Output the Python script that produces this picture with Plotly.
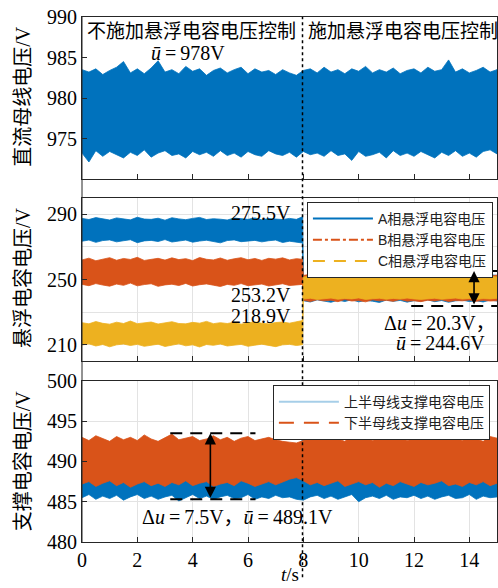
import plotly.graph_objects as go

# ---------------- time grids (s) ----------------
T_FULL = [i * 0.25 for i in range(61)]
T_PRE = [i * 0.25 for i in range(32)] + [7.97]
T_POST = [8.0] + [8.25 + i * 0.25 for i in range(28)]
T_SWITCH = 7.97

# ---------------- panel 1: DC bus voltage (V) envelopes ----------------
BUS_HI = [983.5, 983.2, 983.6, 982.9, 983.4, 983.8, 984.5, 983.1, 983.6, 983.0,
          983.7, 984.6, 983.2, 983.5, 983.0, 983.9, 983.3, 983.6, 982.8, 983.4,
          983.7, 983.1, 983.5, 983.8, 983.0, 983.6, 983.2, 983.4, 982.9, 983.5,
          983.1, 982.8, 983.4, 983.6, 983.1, 983.8, 983.2, 983.5, 983.0, 983.6,
          983.3, 983.9, 983.1, 983.5, 983.2, 983.7, 983.0, 983.4, 983.6, 983.1,
          983.8, 983.3, 983.5, 984.7, 983.2, 983.6, 983.1, 983.4, 983.8, 983.2,
          983.5]
BUS_LO = [973.2, 972.1, 973.5, 972.8, 973.4, 973.0, 972.6, 973.3, 972.9, 973.6,
          972.7, 973.2, 973.5, 972.9, 973.1, 972.6, 973.4, 973.0, 973.3, 972.8,
          973.5, 972.9, 973.2, 972.7, 973.4, 973.0, 972.8, 973.5, 973.1, 972.9,
          973.3, 972.7, 973.4, 973.0, 973.2, 972.8, 973.5, 972.9, 973.1, 972.3,
          973.4, 972.8, 973.0, 973.3, 972.6, 973.5, 972.9, 973.2, 972.8, 973.4,
          973.0, 972.6, 973.3, 972.9, 973.5, 972.8, 973.2, 972.7, 973.4, 973.6,
          973.1]

# ---------------- panel 2: floating capacitor voltages (V) ----------------
A_HI_PRE = [287.5, 286.8, 288.0, 287.2, 286.5, 287.8, 287.0, 286.6, 288.2, 287.1,
            286.9, 287.6, 286.4, 287.9, 287.2, 286.7, 287.5, 288.1, 286.8, 287.3,
            287.0, 286.5, 287.7, 287.1, 286.9, 287.8, 286.6, 287.4, 287.0, 286.8,
            287.5, 286.9, 288.5]
A_LO_PRE = [273.5, 274.2, 272.8, 273.9, 274.3, 273.1, 273.8, 274.4, 272.6, 273.7,
            274.0, 273.3, 274.5, 273.0, 273.8, 274.2, 272.9, 273.6, 274.1, 273.4,
            272.5, 273.9, 274.3, 273.2, 273.7, 274.0, 273.1, 273.8, 274.2, 272.7,
            273.5, 273.0, 272.4]
A_HI_POST = [252.0, 252.8, 251.9, 253.4, 252.3, 252.6, 251.8, 253.0, 252.2, 252.7,
             251.9, 253.2, 252.4, 252.0, 252.9, 251.7, 253.1, 252.3, 252.6, 251.9,
             252.8, 252.1, 253.3, 252.4, 251.8, 252.7, 252.2, 253.0, 252.5]
A_LO_POST = [237.0, 236.2, 237.5, 236.8, 236.0, 237.3, 236.5, 237.6, 236.3, 237.1,
             236.7, 235.9, 237.4, 236.6, 237.2, 236.1, 237.0, 236.8, 237.5, 236.4,
             237.1, 236.0, 236.9, 237.3, 236.5, 237.0, 236.2, 237.4, 236.8]

B_HI_PRE = [262.0, 263.1, 261.5, 262.6, 263.4, 261.8, 262.9, 262.3, 263.6, 261.7,
            262.5, 263.0, 261.9, 263.3, 262.2, 262.8, 261.6, 263.5, 262.4, 262.0,
            263.2, 261.8, 262.7, 263.4, 262.1, 262.9, 261.7, 263.0, 262.5, 263.3,
            262.0, 262.8, 262.4]
B_LO_PRE = [247.0, 246.2, 247.5, 246.6, 245.9, 247.2, 246.4, 247.8, 246.1, 246.9,
            247.4, 245.8, 246.7, 247.1, 246.3, 247.6, 246.0, 246.8, 247.3, 246.5,
            245.7, 247.0, 246.4, 247.5, 246.2, 246.9, 247.2, 246.0, 246.6, 247.4,
            246.3, 246.8, 247.0]
B_HI_POST = [252.5, 253.2, 252.0, 253.6, 252.4, 252.9, 252.1, 253.4, 252.6, 252.2,
             253.0, 252.3, 253.5, 252.7, 252.0, 253.1, 252.5, 252.8, 252.2, 253.3,
             252.6, 252.1, 253.0, 252.4, 253.4, 252.3, 252.9, 252.0, 252.7]
B_LO_POST = [237.2, 236.5, 237.6, 236.9, 237.3, 236.4, 237.7, 236.8, 237.1, 236.3,
             237.5, 236.9, 237.2, 236.6, 237.8, 236.7, 237.0, 236.4, 237.3, 236.8,
             237.6, 236.5, 237.1, 236.9, 237.4, 236.6, 237.2, 236.8, 237.0]

C_HI_PRE = [223.5, 222.8, 224.2, 223.1, 222.6, 223.8, 223.0, 224.5, 222.9, 223.4,
            223.9, 222.7, 223.6, 224.1, 223.0, 222.8, 223.7, 223.2, 224.3, 222.9,
            223.5, 223.0, 223.8, 222.6, 223.4, 224.0, 223.1, 222.8, 223.6, 223.9,
            223.2, 224.2, 224.8]
C_LO_PRE = [209.8, 210.5, 209.2, 210.1, 208.7, 209.9, 210.4, 209.5, 210.2, 209.0,
            209.7, 210.3, 208.9, 209.8, 210.5, 209.3, 209.9, 208.6, 210.1, 209.6,
            210.4, 209.2, 209.8, 210.2, 209.0, 209.7, 210.3, 209.4, 208.8, 209.9,
            210.2, 209.5, 210.0]
C_HI_POST = [251.5, 252.0, 251.2, 252.3, 251.6, 251.9, 251.3, 252.1, 251.7, 251.4,
             252.2, 251.5, 251.8, 251.2, 252.0, 251.6, 251.9, 251.3, 252.2, 251.7,
             251.4, 252.0, 251.6, 251.8, 251.3, 252.1, 251.5, 251.9, 251.6]
C_LO_POST = [238.0, 238.5, 237.8, 238.3, 238.6, 237.9, 238.4, 238.1, 238.7, 237.8,
             238.2, 238.5, 237.9, 238.4, 238.0, 238.6, 238.1, 237.8, 238.3, 238.5,
             237.9, 238.2, 238.6, 238.0, 238.4, 237.8, 238.3, 238.1, 238.5]

# ---------------- panel 3: support capacitor voltages (V) ----------------
UP_HI = [491.8, 492.0, 491.6, 491.9, 491.7, 492.1, 491.8, 491.5, 492.0, 491.7,
         491.9, 491.6, 492.0, 491.8, 491.5, 491.9, 491.7, 492.1, 491.6, 491.8,
         492.0, 491.7, 491.9, 491.5, 491.8, 492.0, 491.6, 491.9, 491.7, 492.0,
         491.6, 491.8, 492.8, 491.9, 491.7, 492.0, 491.6, 491.8, 491.9, 491.5,
         491.8, 492.0, 491.7, 491.9, 491.6, 491.8, 492.0, 491.7, 491.9, 491.6,
         491.8, 492.1, 491.7, 491.9, 491.6, 491.8, 492.0, 491.7, 491.9, 491.6,
         491.8]
UP_LO = [485.5, 485.9, 485.3, 485.7, 485.4, 485.8, 485.2, 485.6, 485.9, 485.4,
         485.7, 485.3, 485.6, 485.8, 485.1, 485.5, 485.9, 485.4, 485.7, 485.3,
         485.6, 485.8, 485.4, 485.5, 485.9, 485.3, 485.6, 485.4, 485.8, 485.5,
         485.6, 485.3, 485.2, 485.6, 485.8, 485.4, 485.7, 485.3, 485.6, 485.9,
         485.0, 485.5, 485.7, 485.4, 485.8, 485.3, 485.6, 485.5, 485.8, 485.4,
         485.7, 485.3, 485.6, 485.8, 485.4, 485.5, 485.9, 485.3, 485.7, 485.5,
         485.6]
DN_HI = [493.0, 492.6, 493.2, 492.8, 492.5, 493.1, 492.7, 493.0, 492.6, 493.3,
         492.8, 492.5, 493.0, 493.4, 492.7, 492.9, 493.1, 492.6, 492.8, 493.2,
         492.7, 493.0, 492.5, 492.9, 493.1, 492.6, 492.8, 493.0, 492.7, 492.5,
         492.4, 492.3, 492.6, 492.9, 493.1, 492.7, 493.0, 492.8, 492.5, 493.2,
         492.8, 493.0, 492.6, 492.9, 493.1, 492.7, 493.0, 492.6, 492.8, 493.4,
         492.7, 493.1, 492.8, 493.5, 492.9, 492.6, 493.0, 492.8, 492.5, 493.1,
         492.9]
DN_LO = [487.2, 487.5, 486.9, 487.3, 487.6, 487.0, 487.4, 486.8, 487.2, 487.5,
         487.0, 487.3, 486.9, 487.4, 487.1, 487.6, 487.0, 487.3, 487.5, 486.9,
         487.2, 487.4, 487.0, 487.6, 487.3, 486.9, 487.2, 487.5, 487.1, 487.4,
         487.8, 488.0, 487.6, 487.1, 487.4, 487.0, 487.3, 487.6, 486.9, 487.2,
         487.5, 487.1, 487.4, 486.8, 487.3, 487.0, 487.5, 487.2, 486.9, 487.4,
         487.1, 487.3, 487.6, 487.0, 487.2, 486.9, 487.4, 487.1, 487.5, 487.0,
         487.3]

# ---------------- labels ----------------
X_TICKS = [0, 2, 4, 6, 8, 10, 12, 14]
Y1_TICKS = [975, 980, 985, 990]
Y2_TICKS = [210, 250, 290]
Y3_TICKS = [480, 485, 490, 495, 500]
LEG_MID = ["A相悬浮电容电压", "B相悬浮电容电压", "C相悬浮电容电压"]
LEG_BOT = ["上半母线支撑电容电压", "下半母线支撑电容电压"]

BLUE = "#0072BD"
RED = "#D95319"
YEL = "#EDB120"
LIGHTBLUE = "rgba(0,114,189,0.35)"
SERIF = "Liberation Serif, Noto Sans CJK SC"
CJK = "Noto Sans CJK SC"
SANS = "Liberation Sans, Noto Sans CJK SC"


def band(x, hi, lo, color, xa, ya):
    return go.Scatter(x=list(x) + list(x)[::-1], y=list(hi) + list(lo)[::-1],
                      fill="toself", fillcolor=color, mode="lines",
                      line=dict(color=color, width=0.8), showlegend=False,
                      hoverinfo="skip", xaxis=xa, yaxis=ya)


fig = go.Figure()
fig.add_trace(band(T_FULL, BUS_HI, BUS_LO, BLUE, "x", "y"))

T_MID = T_PRE + T_POST
fig.add_trace(band(T_MID, A_HI_PRE + A_HI_POST, A_LO_PRE + A_LO_POST, BLUE, "x2", "y2"))
fig.add_trace(band(T_MID, B_HI_PRE + B_HI_POST, B_LO_PRE + B_LO_POST, RED, "x2", "y2"))
fig.add_trace(band(T_MID, C_HI_PRE + C_HI_POST, C_LO_PRE + C_LO_POST, YEL, "x2", "y2"))

fig.add_trace(band(T_FULL, UP_HI, UP_LO, BLUE, "x3", "y3"))
fig.add_trace(band(T_FULL, DN_HI, DN_LO, RED, "x3", "y3"))

# legend entries
for name, col, dash in zip(LEG_MID, [BLUE, RED, YEL], ["solid", "dashdot", "12px,9px"]):
    fig.add_trace(go.Scatter(x=[None], y=[None], mode="lines", name=name,
                             line=dict(color=col, width=2, dash=dash),
                             xaxis="x2", yaxis="y2", legend="legend"))
for name, col, dash in zip(LEG_BOT, [LIGHTBLUE, RED], ["solid", "15px,10px"]):
    fig.add_trace(go.Scatter(x=[None], y=[None], mode="lines", name=name,
                             line=dict(color=col, width=2, dash=dash),
                             xaxis="x3", yaxis="y3", legend="legend2"))

AX = dict(showline=True, linecolor="#262626", linewidth=1, mirror=True,
          ticks="inside", ticklen=5, tickcolor="#262626", zeroline=False,
          tickfont=dict(family=SERIF, size=20, color="black"))
GRID = "#e3e3e3"

fig.update_layout(
    width=498, height=588,
    margin=dict(l=82, r=1, t=17, b=46),
    paper_bgcolor="white", plot_bgcolor="white",
    xaxis=dict(AX, domain=[0, 1], anchor="y", range=[0, 15], tickvals=X_TICKS,
               showticklabels=False, showgrid=False),
    yaxis=dict(AX, domain=[0.6914, 1], anchor="x", range=[970, 990],
               tickvals=Y1_TICKS, showgrid=False),
    xaxis2=dict(AX, domain=[0, 1], anchor="y2", range=[0, 15], tickvals=X_TICKS,
                showticklabels=False, showgrid=True, gridcolor=GRID),
    yaxis2=dict(AX, domain=[0.3448, 0.6552], anchor="x2", range=[200, 300],
                tickvals=Y2_TICKS, showgrid=True, gridcolor=GRID,
                minor=dict(tickvals=[230, 270], showgrid=True, gridcolor=GRID, ticks="")),
    xaxis3=dict(AX, domain=[0, 1], anchor="y3", range=[0, 15], tickvals=X_TICKS,
                showgrid=True, gridcolor=GRID),
    yaxis3=dict(AX, domain=[0, 0.3067], anchor="x3", range=[480, 500],
                tickvals=Y3_TICKS, showgrid=True, gridcolor=GRID),
    legend=dict(x=0.542, y=0.6476, xanchor="left", yanchor="top",
                bgcolor="white", bordercolor="#262626", borderwidth=1,
                font=dict(family=SANS, size=14, color="#222"), itemwidth=60,
                tracegroupgap=0),
    legend2=dict(x=0.46, y=0.299, xanchor="left", yanchor="top",
                 bgcolor="white", bordercolor="#262626", borderwidth=1,
                 font=dict(family=SANS, size=14, color="#222"), itemwidth=60,
                 tracegroupgap=0),
    showlegend=True,
)

shapes = []
# continuous left spine
shapes.append(dict(type="line", xref="paper", yref="paper", x0=0, x1=0, y0=0, y1=1,
                   line=dict(color="#262626", width=1)))
# switching instant (dotted)
shapes.append(dict(type="line", xref="x", yref="paper", x0=T_SWITCH, x1=T_SWITCH,
                   y0=-0.067, y1=1, line=dict(color="black", width=1.5, dash="dot")))
# middle panel dashed bounds
for yv in [255.2, 233.7]:
    shapes.append(dict(type="line", xref="x2", yref="y2", x0=11.9, x1=15, y0=yv, y1=yv,
                       line=dict(color="black", width=2, dash="12px,8px")))
# bottom panel dashed bounds
for yv in [493.5, 485.3]:
    shapes.append(dict(type="line", xref="x3", yref="y3", x0=3.19, x1=6.27, y0=yv, y1=yv,
                       line=dict(color="black", width=2, dash="12px,8px")))
fig.update_layout(shapes=shapes)

ann = []
F20 = dict(family=SERIF, size=20, color="black")
ann.append(dict(text="不施加悬浮电容电压控制", x=0.1, y=988.4, xref="x", yref="y",
                xanchor="left", yanchor="middle", showarrow=False,
                font=dict(family=CJK, size=19, color="black")))
ann.append(dict(text="施加悬浮电容电压控制", x=8.08, y=988.4, xref="x", yref="y",
                xanchor="left", yanchor="middle", showarrow=False,
                font=dict(family=CJK, size=19, color="black")))
ann.append(dict(text="<i>ū</i>\u2009=\u2009978V", x=3.84, y=985.6, xref="x", yref="y",
                xanchor="center", yanchor="middle", showarrow=False, font=F20))
for txt, yv in [("275.5V", 290.8), ("253.2V", 240.4), ("218.9V", 227.8)]:
    ann.append(dict(text=txt, x=7.64, y=yv, xref="x2", yref="y2", xanchor="right",
                    yanchor="middle", showarrow=False, font=F20))
ann.append(dict(text="Δ<i>u</i>\u2009=\u200920.3V，", x=12.95, y=223.3, xref="x2", yref="y2",
                xanchor="center", yanchor="middle", showarrow=False, font=F20))
ann.append(dict(text="<i>ū</i>\u2009=\u2009244.6V", x=12.95, y=211.0, xref="x2", yref="y2",
                xanchor="center", yanchor="middle", showarrow=False, font=F20))
ann.append(dict(text="Δ<i>u</i>\u2009=\u20097.5V，<i>ū</i>\u2009=\u2009489.1V", x=5.62, y=483.1,
                xref="x3", yref="y3", xanchor="center", yanchor="middle",
                showarrow=False, font=F20))
# double arrows
ann.append(dict(text="", x=14.17, y=255.2, ax=14.17, ay=233.7, xref="x2", yref="y2",
                axref="x2", ayref="y2", showarrow=True, arrowhead=2, arrowsize=1.4,
                arrowwidth=1.6, arrowcolor="black", arrowside="end+start",
                startarrowhead=2, startarrowsize=1.4))
ann.append(dict(text="", x=4.64, y=493.5, ax=4.64, ay=485.3, xref="x3", yref="y3",
                axref="x3", ayref="y3", showarrow=True, arrowhead=2, arrowsize=1.4,
                arrowwidth=1.6, arrowcolor="black", arrowside="end+start",
                startarrowhead=2, startarrowsize=1.4))
# axis titles
for txt, yp in [("直流母线电压/V", 0.848), ("悬浮电容电压/V", 0.503), ("支撑电容电压/V", 0.154)]:
    ann.append(dict(text=txt, x=-0.142, y=yp, xref="paper", yref="paper", textangle=-90,
                    xanchor="center", yanchor="middle", showarrow=False,
                    font=dict(family=SERIF, size=20, color="black")))
ann.append(dict(text="<i>t</i>/s", x=0.5, y=-0.062, xref="paper", yref="paper",
                xanchor="center", yanchor="middle", showarrow=False,
                font=dict(family=SERIF, size=19, color="black")))
fig.update_layout(annotations=ann)

# remove the default 8px page margin so the 498x588 figure fills the window exactly
fig.write_html("out.html", config={"displayModeBar": False},
               post_script="document.body.style.margin='0px';"
                           "document.body.style.overflow='hidden';")
